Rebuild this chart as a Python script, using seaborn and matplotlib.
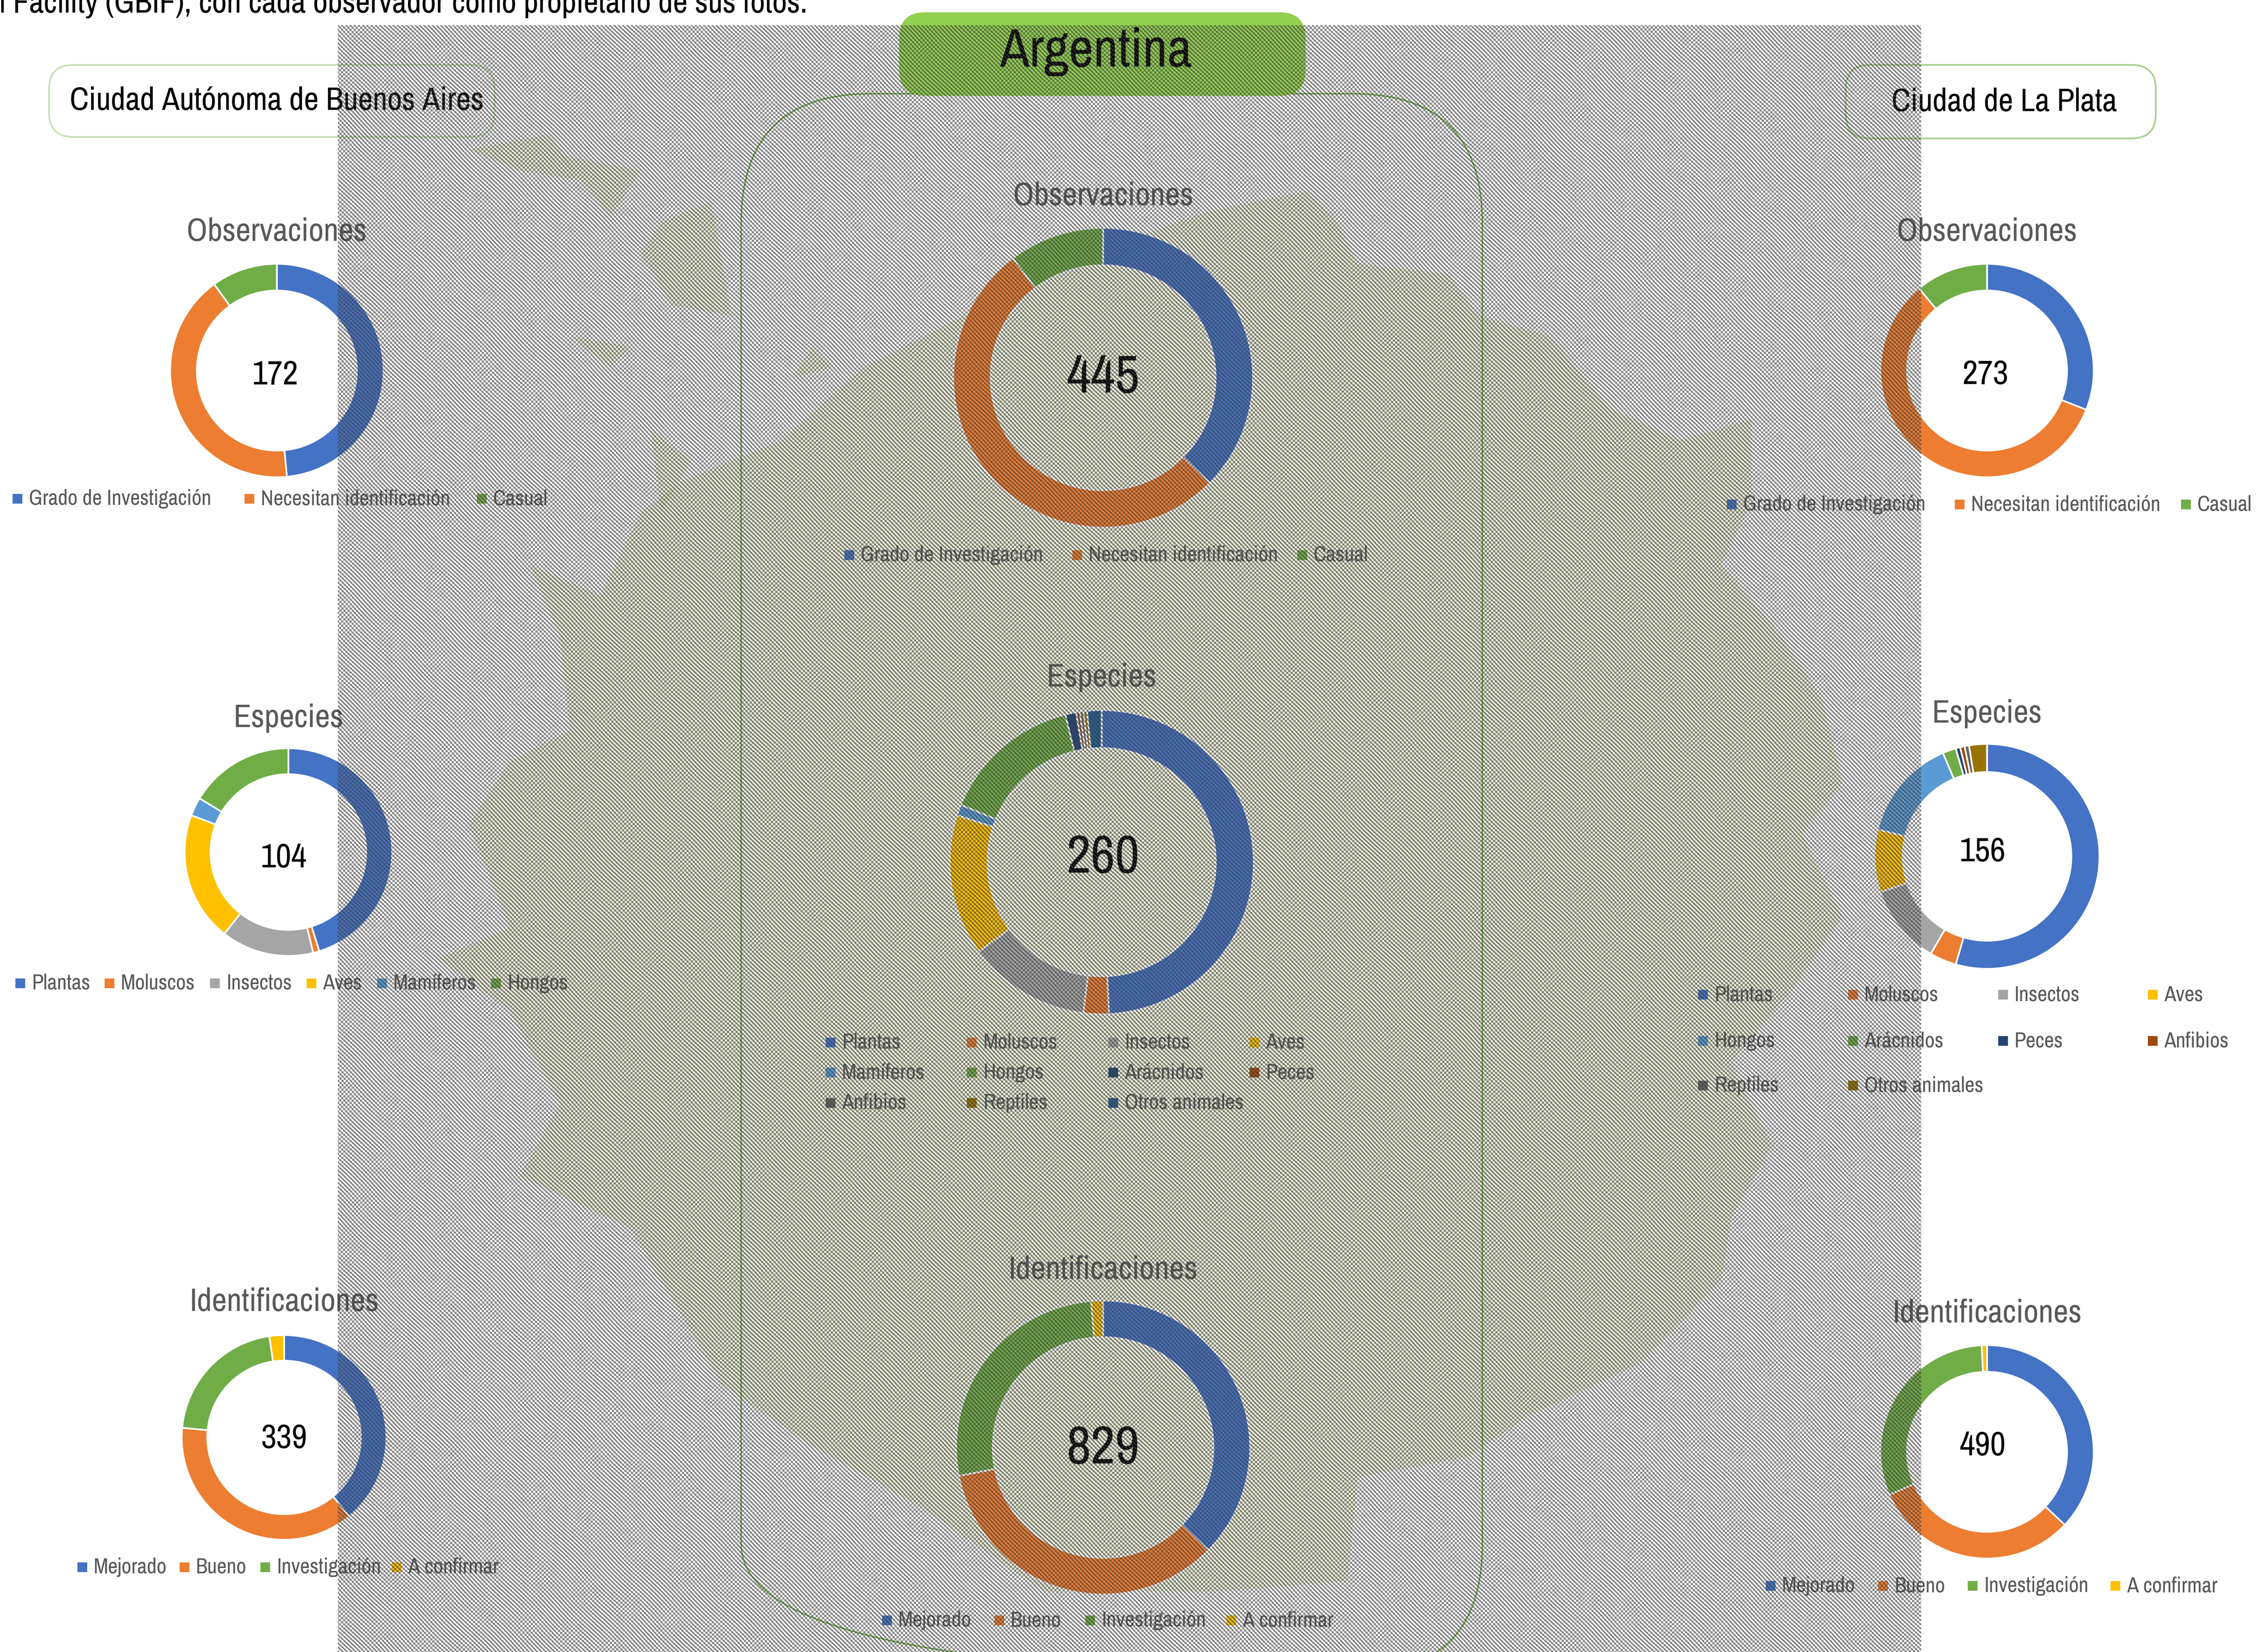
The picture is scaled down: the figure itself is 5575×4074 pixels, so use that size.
import matplotlib
matplotlib.use("Agg")
import matplotlib.pyplot as plt
from matplotlib.patches import FancyBboxPatch, Polygon, Rectangle
import numpy as np
import seaborn as sns

# Datos
obs_labels = ["Grado de Investigación", "Necesitan identificación", "Casual"]
id_labels = ["Mejorado", "Bueno", "Investigación", "A confirmar"]
esp_caba_labels = ["Plantas", "Moluscos", "Insectos", "Aves", "Mamíferos", "Hongos"]
esp_arg_labels = ["Plantas", "Moluscos", "Insectos", "Aves", "Mamíferos", "Hongos",
                  "Arácnidos", "Peces", "Anfibios", "Reptiles", "Otros animales"]
esp_lp_labels = ["Plantas", "Moluscos", "Insectos", "Aves", "Hongos", "Arácnidos",
                 "Peces", "Anfibios", "Reptiles", "Otros animales"]

obs_caba = [48.5, 41.5, 10]
obs_arg = [37.4, 52.3, 10.3]
obs_lp = [31, 58, 11]
esp_caba = [47, 1, 15, 21, 3, 17]
esp_arg = [128, 7, 34, 39, 3, 39, 3, 1, 1, 1, 4]
esp_lp = [85, 6, 18, 14, 23, 3, 1, 1, 1, 4]
id_caba = [39, 37.5, 21.2, 2.3]
id_arg = [37.3, 34.6, 26.8, 1.3]
id_lp = [37, 31.4, 30.8, 0.8]

# Colores tipo Office
azul, naranja, gris, amarillo = "#4472C4", "#ED7D31", "#A5A5A5", "#FFC000"
celeste, verde, azul_osc, marron = "#5B9BD5", "#70AD47", "#264478", "#9E480E"
gris_osc, oliva, azul_med = "#636363", "#997300", "#255E91"
obs_col = [azul, naranja, verde]
id_col = [azul, naranja, verde, amarillo]
esp_caba_col = [azul, naranja, gris, amarillo, celeste, verde]
esp_arg_col = [azul, naranja, gris, amarillo, celeste, verde, azul_osc, marron, gris_osc, oliva, azul_med]
esp_lp_col = [azul, naranja, gris, amarillo, celeste, verde, azul_osc, marron, gris_osc, oliva]

sns.set_theme(style="white")
plt.rcParams["font.family"] = ["Archivo Narrow", "Roboto Condensed", "Liberation Sans"]

W, H = 5575, 4074
S = W / 1568
fig = plt.figure(figsize=(W / 100, H / 100), dpi=100, facecolor="white")


def capa(z):
    ax = fig.add_axes([0, 0, 1, 1], zorder=z)
    ax.set_xlim(0, W)
    ax.set_ylim(H, 0)
    ax.axis("off")
    ax.patch.set_alpha(0)
    return ax


fondo = capa(0)
textos = capa(5)
trama = capa(10)

# Mapa de fondo
z = lambda pts: [(833 + x * 2.49, 62 + y * 2.558) for x, y in pts]
mapa = [
    [(440, 400), (520, 330), (620, 280), (690, 240), (860, 180), (960, 160), (990, 190), (1010, 230),
     (1100, 240), (1130, 280), (1200, 300), (1260, 370), (1330, 400), (1400, 380), (1400, 460),
     (1370, 520), (1430, 590), (1470, 650), (1490, 730), (1450, 780), (1490, 860), (1440, 930),
     (1380, 1000), (1420, 1080), (1380, 1150), (1370, 1210), (1290, 1290), (1180, 1340), (1120, 1380),
     (1010, 1400), (1000, 1500), (870, 1510), (700, 1510), (580, 1430), (470, 1370), (380, 1310),
     (290, 1160), (180, 1110), (220, 1040), (170, 950), (100, 900), (170, 870), (130, 770), (170, 710),
     (230, 680), (220, 590), (190, 520), (260, 550), (300, 470), (340, 440)],
    [(130, 120), (210, 105), (240, 150), (180, 140)],
    [(220, 125), (300, 140), (270, 185)],
    [(320, 190), (370, 170), (390, 280), (330, 270), (300, 220)],
    [(230, 300), (290, 310), (270, 330)],
    [(310, 390), (350, 420), (320, 470)],
    [(470, 310), (490, 330), (450, 340)],
]
for p in mapa:
    fondo.add_patch(Polygon(z(p), closed=True, facecolor="#B9C272", alpha=0.26, edgecolor="none"))


def caja(ax, x0, y0, x1, y1, r, **kw):
    ax.add_patch(FancyBboxPatch((x0 * S + r, y0 * S + r), (x1 - x0) * S - 2 * r, (y1 - y0) * S - 2 * r,
                                boxstyle=f"round,pad={r},rounding_size={r}", **kw))


caja(textos, 514, 65, 1028, 1161, 320, facecolor="none", edgecolor="#70AD47", linewidth=2.5)
caja(textos, 34, 45, 343, 95, 60, facecolor="none", edgecolor="#C5E0B4", linewidth=3)
caja(textos, 1280, 45, 1495, 96, 60, facecolor="none", edgecolor="#A9D18E", linewidth=3)
caja(textos, 623.5, 8.5, 905.5, 66.5, 65, facecolor="#92D050", edgecolor="none")

textos.text(560 * S, 9 * S, "n Facility (GBIF), con cada observador como propietario de sus fotos.",
            ha="right", va="baseline", fontsize=57, color="black", clip_on=False)
textos.text(192 * S, 70 * S, "Ciudad Autónoma de Buenos Aires", ha="center", va="center", fontsize=57, color="black")
textos.text(1390 * S, 71 * S, "Ciudad de La Plata", ha="center", va="center", fontsize=57, color="black")
textos.text(760 * S, 36 * S, "Argentina", ha="center", va="center", fontsize=96, color="black")


def dona(valores, colores, cx, cy, r, total, fs_total, titulo, tx, ty, fs_titulo, nx, ny):
    px, py, pr = cx * S, cy * S, r * S
    ax = fig.add_axes([(px - pr) / W, 1 - (py + pr) / H, 2 * pr / W, 2 * pr / H], zorder=3)
    ax.pie(valores, colors=colores, startangle=90, counterclock=False, radius=1,
           wedgeprops=dict(width=0.25, edgecolor="white", linewidth=3))
    ax.set_xlim(-1, 1)
    ax.set_ylim(-1, 1)
    textos.text(nx * S, ny * S, str(total), ha="center", va="center", fontsize=fs_total, color="black")
    textos.text(tx * S, ty * S, titulo, ha="center", va="center", fontsize=fs_titulo, color="#595959")


def leyenda(etiquetas, colores, xs, ys, fs=38):
    n = len(xs)
    for i, (et, col) in enumerate(zip(etiquetas, colores)):
        x = xs[i % n] * S
        y = ys[i // n] * S
        textos.add_patch(Rectangle((x - 12, y - 12), 24, 24, facecolor=col, edgecolor="none"))
        textos.text(x + 28, y, et, ha="left", va="center", fontsize=fs, color="#595959")


dona(obs_caba, obs_col, 192, 257, 74, 172, 60, "Observaciones", 192, 161, 58, 191, 260)
leyenda(obs_labels, obs_col, [12, 173, 334], [346])
dona(esp_caba, esp_caba_col, 200, 591, 72, 104, 60, "Especies", 200, 498, 58, 197, 595)
leyenda(esp_caba_labels, esp_caba_col, [14, 76, 149, 216, 265, 344], [682])
dona(id_caba, id_col, 197, 997, 71, 339, 60, "Identificaciones", 197, 903, 58, 197, 998)
leyenda(id_labels, id_col, [57, 128, 184, 275], [1087])

dona(obs_arg, obs_col, 765, 262, 104, 445, 95, "Observaciones", 765, 136, 58, 765, 262)
leyenda(obs_labels, obs_col, [589, 747, 903], [385])
dona(esp_arg, esp_arg_col, 764, 598, 105.5, 260, 95, "Especies", 764, 470, 58, 765, 595)
leyenda(esp_arg_labels, esp_arg_col, [576, 674, 772, 870], [723, 744, 765])
dona(id_arg, id_col, 765, 1004, 102, 829, 95, "Identificaciones", 765, 881, 58, 765, 1005)
leyenda(id_labels, id_col, [615, 693, 756, 854], [1124])

dona(obs_lp, obs_col, 1378, 257, 74, 273, 60, "Observaciones", 1378, 161, 58, 1377, 260)
leyenda(obs_labels, obs_col, [1201, 1359, 1516], [350])
dona(esp_lp, esp_lp_col, 1378, 594, 78, 156, 60, "Especies", 1378, 495, 58, 1375, 591)
leyenda(esp_lp_labels, esp_lp_col, [1181, 1285, 1389, 1493], [690, 722, 753])
dona(id_lp, id_col, 1378, 1007, 74, 490, 60, "Identificaciones", 1378, 911, 58, 1375, 1003)
leyenda(id_labels, id_col, [1228, 1306, 1368, 1467], [1100])

# Trama gris encima de todo (textura, no son datos)
tw, th = 3904, 4012
yy, xx = np.mgrid[0:th, 0:tw].astype(np.float32)
a = 2 * np.pi * (xx - yy) / 10.5 + 1.2 * np.sin((xx + yy) / 47)
b = 2 * np.pi * (xx + yy) / 10.5
m = 0.55 + 0.45 * np.sin(xx / 53 + yy / 37 + 1.3 * np.sin(yy / 91)) * np.sin(xx / 29 - yy / 61)
v = np.cos(a) + m * np.cos(b)
cob = np.clip(0.55 + 1.2 * v, 0, 1)
img = np.zeros((th, tw, 4), dtype=np.uint8)
img[..., :3] = 64
img[..., 3] = (255 * 0.65 * cob).astype(np.uint8)
trama.imshow(img, extent=(833, 833 + tw, 62 + th, 62), interpolation="nearest", aspect="auto")
trama.set_xlim(0, W)
trama.set_ylim(H, 0)

fig.savefig("out.png", dpi=100, facecolor="white")
